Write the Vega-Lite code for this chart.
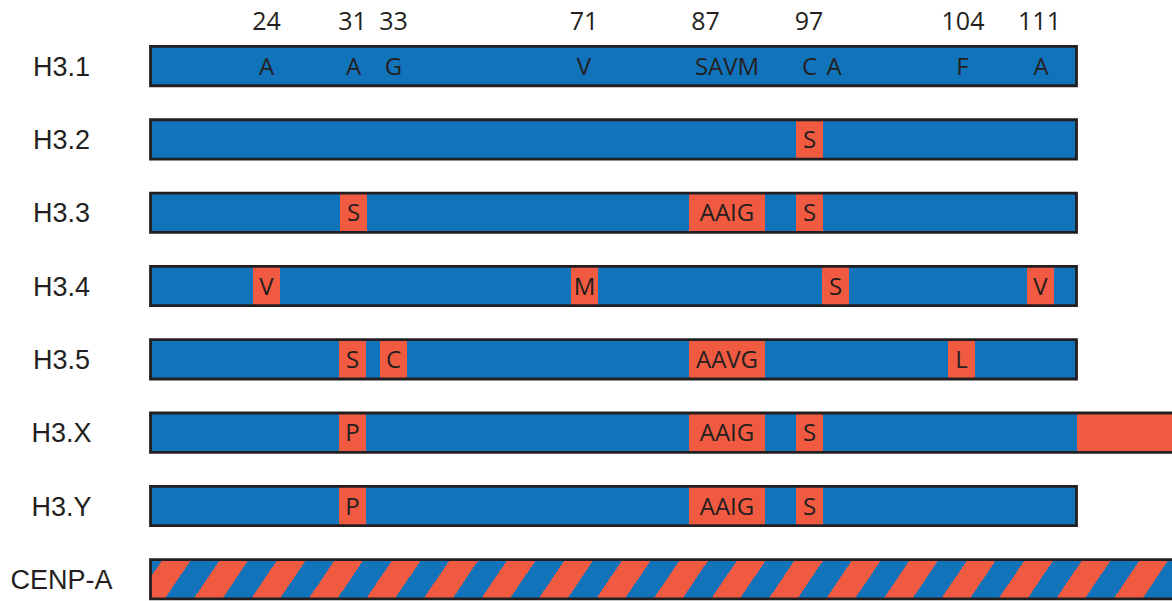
{
  "$schema": "https://vega.github.io/schema/vega-lite/v6.json",
  "width": 1172,
  "height": 601,
  "padding": 0,
  "autosize": "none",
  "background": "white",
  "config": {"view": {"stroke": null}},
  "datasets": {
    "bars": [
      {"variant": "H3.1", "start": 150.5, "end": 1076.5},
      {"variant": "H3.2", "start": 150.5, "end": 1076.5},
      {"variant": "H3.3", "start": 150.5, "end": 1076.5},
      {"variant": "H3.4", "start": 150.5, "end": 1076.5},
      {"variant": "H3.5", "start": 150.5, "end": 1076.5},
      {"variant": "H3.X", "start": 150.5, "end": 1190},
      {"variant": "H3.Y", "start": 150.5, "end": 1076.5}
    ],
    "cenpa": [
      {"variant": "CENP-A", "start": 150.5, "end": 1190}
    ],
    "subs": [
      {"variant": "H3.2", "start": 796, "end": 823, "label": "S"},
      {"variant": "H3.3", "start": 340, "end": 367, "label": "S"},
      {"variant": "H3.3", "start": 689, "end": 765, "label": "AAIG"},
      {"variant": "H3.3", "start": 796, "end": 823, "label": "S"},
      {"variant": "H3.4", "start": 253, "end": 280, "label": "V"},
      {"variant": "H3.4", "start": 571, "end": 598, "label": "M"},
      {"variant": "H3.4", "start": 822, "end": 849, "label": "S"},
      {"variant": "H3.4", "start": 1027, "end": 1054, "label": "V"},
      {"variant": "H3.5", "start": 339, "end": 366, "label": "S"},
      {"variant": "H3.5", "start": 380, "end": 407, "label": "C"},
      {"variant": "H3.5", "start": 689, "end": 765, "label": "AAVG"},
      {"variant": "H3.5", "start": 948, "end": 975, "label": "L"},
      {"variant": "H3.X", "start": 339, "end": 366, "label": "P"},
      {"variant": "H3.X", "start": 689, "end": 765, "label": "AAIG"},
      {"variant": "H3.X", "start": 796, "end": 823, "label": "S"},
      {"variant": "H3.X", "start": 1077, "end": 1190, "label": ""},
      {"variant": "H3.Y", "start": 339, "end": 366, "label": "P"},
      {"variant": "H3.Y", "start": 689, "end": 765, "label": "AAIG"},
      {"variant": "H3.Y", "start": 796, "end": 823, "label": "S"}
    ],
    "h31": [
      {"variant": "H3.1", "pos": 266.5, "label": "A"},
      {"variant": "H3.1", "pos": 353.5, "label": "A"},
      {"variant": "H3.1", "pos": 393.5, "label": "G"},
      {"variant": "H3.1", "pos": 584, "label": "V"},
      {"variant": "H3.1", "pos": 727, "label": "SAVM"},
      {"variant": "H3.1", "pos": 809.5, "label": "C"},
      {"variant": "H3.1", "pos": 834, "label": "A"},
      {"variant": "H3.1", "pos": 962.5, "label": "F"},
      {"variant": "H3.1", "pos": 1041, "label": "A"}
    ],
    "residues": [
      {"variant": "H3.1", "pos": 266.5, "residue": "24"},
      {"variant": "H3.1", "pos": 352.5, "residue": "31"},
      {"variant": "H3.1", "pos": 393.5, "residue": "33"},
      {"variant": "H3.1", "pos": 584, "residue": "71"},
      {"variant": "H3.1", "pos": 705.5, "residue": "87"},
      {"variant": "H3.1", "pos": 809, "residue": "97"},
      {"variant": "H3.1", "pos": 963, "residue": "104"},
      {"variant": "H3.1", "pos": 1039.5, "residue": "111"}
    ]
  },
  "encoding": {
    "y": {
      "field": "variant",
      "type": "nominal",
      "scale": {
        "domain": ["H3.1", "H3.2", "H3.3", "H3.4", "H3.5", "H3.X", "H3.Y", "CENP-A"],
        "range": [46.45, 598.95],
        "paddingInner": 0.464,
        "paddingOuter": 0,
        "round": false
      },
      "axis": {
        "orient": "left",
        "offset": -61,
        "title": null,
        "domain": false,
        "ticks": false,
        "tickSize": 0,
        "grid": false,
        "labelPadding": 0,
        "labelAlign": "center",
        "labelBaseline": "alphabetic",
        "labelOffset": 9.7,
        "labelFont": "Liberation Sans",
        "labelFontSize": 27,
        "labelColor": "#231f20",
        "labelOverlap": false,
        "labelLimit": 0
      }
    }
  },
  "layer": [
    {
      "data": {"name": "bars"},
      "mark": {"type": "rect", "fill": "#1174bb", "strokeWidth": 0, "clip": true},
      "encoding": {
        "x": {"field": "start", "type": "quantitative", "scale": {"domain": [0, 1172], "nice": false, "zero": false}, "axis": null},
        "x2": {"field": "end"}
      }
    },
    {
      "data": {"name": "subs"},
      "mark": {"type": "rect", "fill": "#f05a40", "strokeWidth": 0, "clip": true},
      "encoding": {
        "x": {"field": "start", "type": "quantitative", "scale": {"domain": [0, 1172], "nice": false, "zero": false}, "axis": null},
        "x2": {"field": "end"}
      }
    },
    {
      "data": {"name": "bars"},
      "mark": {"type": "rect", "filled": false, "stroke": "#231f20", "strokeWidth": 2.8, "clip": true},
      "encoding": {
        "x": {"field": "start", "type": "quantitative", "scale": {"domain": [0, 1172], "nice": false, "zero": false}, "axis": null},
        "x2": {"field": "end"}
      }
    },
    {
      "data": {"name": "cenpa"},
      "mark": {
        "type": "rect",
        "clip": true,
        "stroke": "#231f20",
        "strokeWidth": 2.8,
        "fill": {
          "gradient": "linear",
          "x1": 0, "y1": 0, "x2": 1.03, "y2": 0.026324,
          "stops": [
            {"offset": 0, "color": "#1174bb"},
            {"offset": 0.0112, "color": "#1174bb"}, {"offset": 0.0112, "color": "#f05a40"},
            {"offset": 0.0380, "color": "#f05a40"}, {"offset": 0.0380, "color": "#1174bb"},
            {"offset": 0.0649, "color": "#1174bb"}, {"offset": 0.0649, "color": "#f05a40"},
            {"offset": 0.0917, "color": "#f05a40"}, {"offset": 0.0917, "color": "#1174bb"},
            {"offset": 0.1185, "color": "#1174bb"}, {"offset": 0.1185, "color": "#f05a40"},
            {"offset": 0.1454, "color": "#f05a40"}, {"offset": 0.1454, "color": "#1174bb"},
            {"offset": 0.1722, "color": "#1174bb"}, {"offset": 0.1722, "color": "#f05a40"},
            {"offset": 0.1990, "color": "#f05a40"}, {"offset": 0.1990, "color": "#1174bb"},
            {"offset": 0.2259, "color": "#1174bb"}, {"offset": 0.2259, "color": "#f05a40"},
            {"offset": 0.2527, "color": "#f05a40"}, {"offset": 0.2527, "color": "#1174bb"},
            {"offset": 0.2795, "color": "#1174bb"}, {"offset": 0.2795, "color": "#f05a40"},
            {"offset": 0.3064, "color": "#f05a40"}, {"offset": 0.3064, "color": "#1174bb"},
            {"offset": 0.3332, "color": "#1174bb"}, {"offset": 0.3332, "color": "#f05a40"},
            {"offset": 0.3600, "color": "#f05a40"}, {"offset": 0.3600, "color": "#1174bb"},
            {"offset": 0.3869, "color": "#1174bb"}, {"offset": 0.3869, "color": "#f05a40"},
            {"offset": 0.4137, "color": "#f05a40"}, {"offset": 0.4137, "color": "#1174bb"},
            {"offset": 0.4406, "color": "#1174bb"}, {"offset": 0.4406, "color": "#f05a40"},
            {"offset": 0.4674, "color": "#f05a40"}, {"offset": 0.4674, "color": "#1174bb"},
            {"offset": 0.4942, "color": "#1174bb"}, {"offset": 0.4942, "color": "#f05a40"},
            {"offset": 0.5211, "color": "#f05a40"}, {"offset": 0.5211, "color": "#1174bb"},
            {"offset": 0.5479, "color": "#1174bb"}, {"offset": 0.5479, "color": "#f05a40"},
            {"offset": 0.5747, "color": "#f05a40"}, {"offset": 0.5747, "color": "#1174bb"},
            {"offset": 0.6016, "color": "#1174bb"}, {"offset": 0.6016, "color": "#f05a40"},
            {"offset": 0.6284, "color": "#f05a40"}, {"offset": 0.6284, "color": "#1174bb"},
            {"offset": 0.6552, "color": "#1174bb"}, {"offset": 0.6552, "color": "#f05a40"},
            {"offset": 0.6821, "color": "#f05a40"}, {"offset": 0.6821, "color": "#1174bb"},
            {"offset": 0.7089, "color": "#1174bb"}, {"offset": 0.7089, "color": "#f05a40"},
            {"offset": 0.7357, "color": "#f05a40"}, {"offset": 0.7357, "color": "#1174bb"},
            {"offset": 0.7626, "color": "#1174bb"}, {"offset": 0.7626, "color": "#f05a40"},
            {"offset": 0.7894, "color": "#f05a40"}, {"offset": 0.7894, "color": "#1174bb"},
            {"offset": 0.8162, "color": "#1174bb"}, {"offset": 0.8162, "color": "#f05a40"},
            {"offset": 0.8431, "color": "#f05a40"}, {"offset": 0.8431, "color": "#1174bb"},
            {"offset": 0.8699, "color": "#1174bb"}, {"offset": 0.8699, "color": "#f05a40"},
            {"offset": 0.8967, "color": "#f05a40"}, {"offset": 0.8967, "color": "#1174bb"},
            {"offset": 0.9236, "color": "#1174bb"}, {"offset": 0.9236, "color": "#f05a40"},
            {"offset": 0.9504, "color": "#f05a40"}, {"offset": 0.9504, "color": "#1174bb"},
            {"offset": 0.9772, "color": "#1174bb"}, {"offset": 0.9772, "color": "#f05a40"},
            {"offset": 1, "color": "#f05a40"}
          ]
        }
      },
      "encoding": {
        "x": {"field": "start", "type": "quantitative", "scale": {"domain": [0, 1172], "nice": false, "zero": false}, "axis": null},
        "x2": {"field": "end"}
      }
    },
    {
      "data": {"name": "subs"},
      "transform": [
        {"filter": "datum.label != ''"},
        {"calculate": "(datum.start + datum.end) / 2", "as": "mid"}
      ],
      "mark": {"type": "text", "font": "Open Sans", "fontSize": 24, "color": "#231f20", "align": "center", "baseline": "alphabetic", "dy": 8.6},
      "encoding": {
        "x": {"field": "mid", "type": "quantitative", "scale": {"domain": [0, 1172], "nice": false, "zero": false}, "axis": null},
        "text": {"field": "label"}
      }
    },
    {
      "data": {"name": "h31"},
      "mark": {"type": "text", "font": "Open Sans", "fontSize": 24, "color": "#231f20", "align": "center", "baseline": "alphabetic", "dy": 8.6},
      "encoding": {
        "x": {"field": "pos", "type": "quantitative", "scale": {"domain": [0, 1172], "nice": false, "zero": false}, "axis": null},
        "text": {"field": "label"}
      }
    },
    {
      "data": {"name": "residues"},
      "mark": {"type": "text", "font": "Open Sans", "fontSize": 25, "color": "#231f20", "align": "center", "baseline": "alphabetic", "dy": -36},
      "encoding": {
        "x": {"field": "pos", "type": "quantitative", "scale": {"domain": [0, 1172], "nice": false, "zero": false}, "axis": null},
        "text": {"field": "residue"}
      }
    }
  ]
}
